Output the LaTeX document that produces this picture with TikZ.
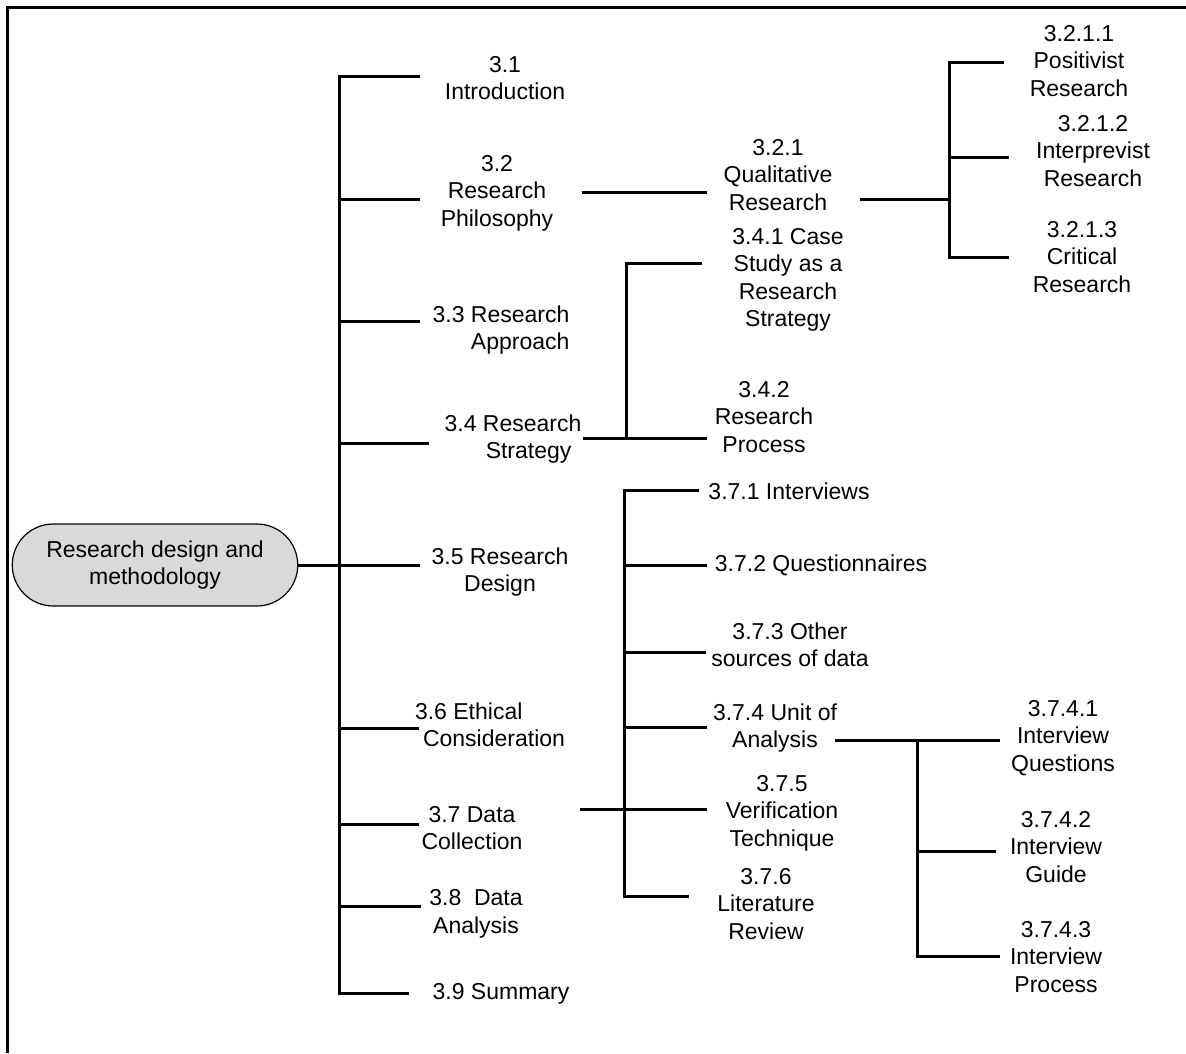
\documentclass[tikz,border=0pt]{standalone}
\usepackage{fontspec}
\setmainfont{Liberation Sans}

\begin{document}
\begin{tikzpicture}[x=.5pt,y=-.5pt,ln/.style={line width=1.5pt},txt/.style={inner sep=0pt,align=center,font=\fontsize{11.5}{13.75}\selectfont}]
\useasboundingbox(0,0)rectangle(1186,1053);
\draw[ln](7,1053)--(7,8)--(1186,8);
% main node
\node[txt,draw,line width=.6pt,fill=gray!30,rounded corners=20.5pt,minimum width=142.75pt,minimum height=41pt](root)at(155,565){Research design and\\methodology};
% level 1
\node[txt](n31)at(505,78){3.1\\Introduction};
\node[txt](n32)at(497,193){3.2\\Research\\Philosophy};
\node[txt,align=right](n33)at(501,330){3.3 Research\\Approach};
\node[txt,align=right](n34)at(513,439){3.4 Research\\Strategy\hspace*{5pt}};
\node[txt](n35)at(500,572){3.5 Research\\Design};
\node[txt,align=left](n36)at(490,725){3.6 Ethical\\\hspace*{4pt}Consideration};
\node[txt](n37)at(472,828){3.7 Data\\Collection};
\node[txt](n38)at(476,914){3.8\ \ Data\\Analysis};
\node[txt](n39)at(501,994){3.9 Summary};
% level 2 and 3
\node[txt](n321)at(778,175){3.2.1\\Qualitative\\Research};
\node[txt](n3211)at(1079,61){3.2.1.1\\Positivist\\Research};
\node[txt](n3212)at(1093,151){3.2.1.2\\Interprevist\\Research};
\node[txt](n3213)at(1082,257){3.2.1.3\\Critical\\Research};
\node[txt](n341)at(788,280){3.4.1 Case\\Study as a\\Research\\Strategy};
\node[txt](n342)at(764,417){3.4.2\\Research\\Process};
\node[txt](n371)at(789,491){3.7.1 Interviews};
\node[txt](n372)at(821,565){3.7.2 Questionnaires};
\node[txt](n373)at(790,645){3.7.3 Other\\sources of data};
\node[txt](n374)at(775,728){3.7.4 Unit of\\Analysis};
\node[txt](n375)at(782,813){3.7.5\\Verification\\Technique};
\node[txt](n376)at(766,904){3.7.6\\Literature\\Review};
\node[txt](n3741)at(1063,738){3.7.4.1\\Interview\\Questions};
\node[txt](n3742)at(1056,847){3.7.4.2\\Interview\\Guide};
\node[txt](n3743)at(1056,957){3.7.4.3\\Interview\\Process};
% trunk
\foreach\n/\y/\e in{31/77/420,32/200/420,33/321/420,34/443/429,35/565/420,36/728/419,37/824/419,38/906/421,39/993/409}{\coordinate(j\n)at(339,\y);\coordinate(e\n)at(\e,\y);}
\draw[ln](e31)--(j31)--(j39)--(e39);
\foreach\n in{32,33,34,36,37,38}\draw[ln](j\n)--(e\n);
\draw[ln](root)--(e35);
% 3.2 branch
\coordinate(p32)at(582,193);\coordinate(q32)at(707,193);\draw[ln](p32)--(q32);
\coordinate(p321)at(860,200);\coordinate(j3210)at(949,200);
\foreach\n/\y/\e in{1/63/1004,2/158/1009,3/258/1009}{\coordinate(j321\n)at(949,\y);\coordinate(e321\n)at(\e,\y);}
\draw[ln](e3211)--(j3211)--(j3213)--(e3213);\draw[ln](j3212)--(e3212);\draw[ln](p321)--(j3210);
% 3.4 branch
\coordinate(p34)at(583,438);\coordinate(j341)at(626,264);\coordinate(e341)at(702,264);\coordinate(j342)at(626,438);\coordinate(e342)at(707,438);
\draw[ln](p34)--(e342);\draw[ln](e341)--(j341)--(j342);
% 3.7 branch
\coordinate(p37)at(580,809);
\foreach\n/\y/\e in{1/490/699,2/565/707,3/652/706,4/727/707,5/809/707,6/896/689}{\coordinate(j37\n)at(624,\y);\coordinate(e37\n)at(\e,\y);}
\draw[ln](e371)--(j371)--(j376)--(e376);
\foreach\n in{2,3,4}\draw[ln](j37\n)--(e37\n);
\draw[ln](p37)--(e375);
% 3.7.4 branch
\coordinate(p374)at(835,740);
\foreach\n/\y/\e in{1/740/1000,2/851/996,3/956/1000}{\coordinate(j374\n)at(917,\y);\coordinate(e374\n)at(\e,\y);}
\draw[ln](p374)--(e3741);\draw[ln](j3741)--(j3743)--(e3743);\draw[ln](j3742)--(e3742);
\end{tikzpicture}
\end{document}
